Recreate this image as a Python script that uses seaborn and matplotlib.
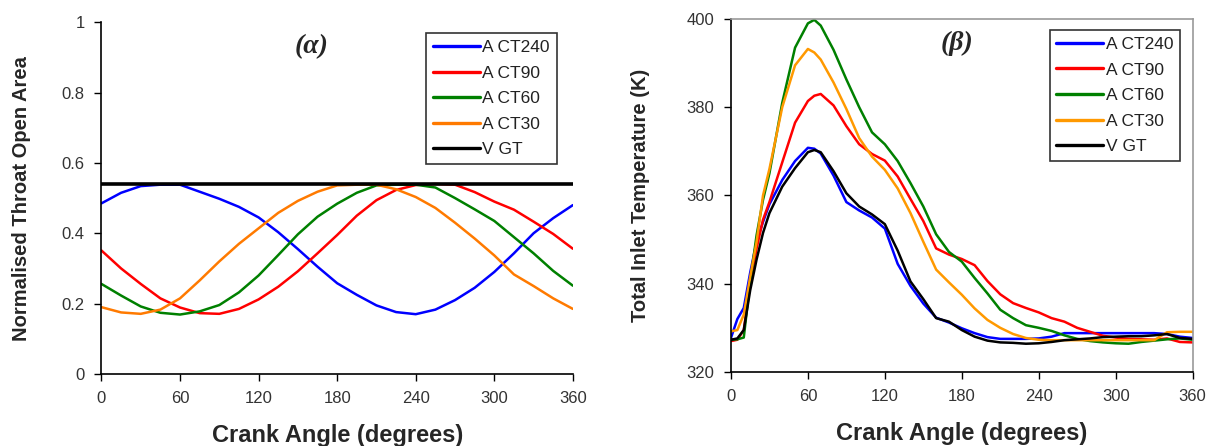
import numpy as np
import pandas as pd
import matplotlib
matplotlib.use("Agg")
import matplotlib.pyplot as plt
import seaborn as sns

# ---------------- data: panel (a) ----------------
angle_a = [0, 15, 30, 45, 60, 75, 90, 105, 120, 135, 150, 165, 180,
           195, 210, 225, 240, 255, 270, 285, 300, 315, 330, 345, 360]
a_act240 = [0.485, 0.515, 0.534, 0.538, 0.538, 0.518, 0.498, 0.475, 0.445, 0.403, 0.355, 0.305, 0.258,
            0.225, 0.195, 0.176, 0.170, 0.183, 0.210, 0.245, 0.290, 0.343, 0.400, 0.443, 0.480]
a_act90 = [0.351, 0.300, 0.256, 0.215, 0.189, 0.173, 0.171, 0.185, 0.212, 0.248, 0.292, 0.343, 0.395,
           0.450, 0.494, 0.523, 0.537, 0.540, 0.538, 0.517, 0.490, 0.467, 0.433, 0.398, 0.356]
a_act60 = [0.256, 0.223, 0.192, 0.174, 0.169, 0.178, 0.196, 0.232, 0.280, 0.338, 0.397, 0.447, 0.484,
           0.515, 0.536, 0.538, 0.538, 0.530, 0.500, 0.468, 0.435, 0.389, 0.343, 0.293, 0.251]
a_act30 = [0.190, 0.175, 0.171, 0.183, 0.215, 0.266, 0.320, 0.370, 0.414, 0.458, 0.492, 0.518, 0.536,
           0.538, 0.538, 0.525, 0.503, 0.472, 0.430, 0.385, 0.337, 0.283, 0.250, 0.215, 0.185]
a_vgt = [0.54] * len(angle_a)

# ---------------- data: panel (b) ----------------
angle_b = [0, 5, 10, 15, 20, 25, 30, 40, 50, 60, 65, 70, 80, 90, 100, 110, 120, 130, 140, 150,
           160, 170, 180, 190, 200, 210, 220, 230, 240, 250, 260, 270, 280, 290, 300, 310,
           320, 330, 340, 350, 360]
b_act240 = [327.7, 332.0, 334.5, 342.5, 349.5, 354.0, 358.0, 363.5, 367.8, 370.8, 370.6, 369.5, 364.5,
            358.5, 356.6, 355.0, 352.5, 344.5, 339.5, 335.5, 332.3, 331.2, 329.9, 328.8, 327.9,
            327.5, 327.5, 327.5, 327.6, 328.0, 328.8, 328.8, 328.8, 328.8, 328.8, 328.8, 328.8,
            328.8, 328.6, 328.0, 327.7]
b_act90 = [327.0, 327.3, 329.5, 340.0, 348.0, 354.5, 358.5, 367.5, 376.5, 381.4, 382.6, 383.0, 380.4,
           375.7, 371.6, 369.4, 367.9, 364.3, 359.2, 354.2, 348.0, 346.6, 345.6, 344.2, 340.6,
           337.6, 335.6, 334.5, 333.5, 332.2, 331.4, 330.0, 329.1, 328.2, 327.8, 327.5, 327.4,
           327.3, 327.6, 326.8, 326.7]
b_act60 = [327.3, 327.4, 327.8, 340.5, 351.0, 359.0, 365.0, 381.0, 393.5, 399.0, 399.8, 398.5, 393.0,
           386.3, 380.0, 374.3, 371.6, 367.8, 362.8, 357.5, 351.2, 347.2, 345.0, 341.3, 337.8,
           334.1, 332.2, 330.6, 330.0, 329.3, 328.3, 327.5, 327.0, 326.7, 326.5, 326.4, 326.8,
           327.1, 327.4, 327.6, 327.3]
b_act30 = [329.2, 329.5, 333.0, 341.5, 349.5, 360.0, 366.0, 380.0, 389.5, 393.2, 392.4, 390.8, 385.6,
           379.6, 373.0, 368.8, 365.8, 361.6, 356.0, 349.5, 343.2, 340.3, 337.5, 334.4, 331.8,
           330.0, 328.6, 327.7, 327.3, 327.2, 327.2, 327.2, 327.2, 327.2, 327.2, 327.2, 327.2,
           327.2, 329.0, 329.1, 329.1]
b_vgt = [327.3, 327.6, 329.5, 338.5, 345.5, 351.5, 356.0, 362.0, 366.2, 369.8, 370.3, 369.8, 365.5,
         360.5, 357.5, 355.7, 353.5, 347.5, 340.5, 336.5, 332.2, 331.4, 329.5, 328.0, 327.1,
         326.7, 326.6, 326.4, 326.5, 326.8, 327.2, 327.4, 327.6, 327.9, 328.0, 328.1, 328.1,
         328.3, 328.6, 327.7, 327.5]

series_names = ["ACT240", "ACT90", "ACT60", "ACT30", "VGT"]
legend_labels = ["A CT240", "A CT90", "A CT60", "A CT30", "V GT"]
x_ticks = [0, 60, 120, 180, 240, 300, 360]
ya_ticks = [0, 0.2, 0.4, 0.6, 0.8, 1]
ya_ticklabels = ["0", "0.2", "0.4", "0.6", "0.8", "1"]
yb_ticks = [320, 340, 360, 380, 400]


def long_df(angle, arrays):
    frames = []
    for name, vals in zip(series_names, arrays):
        frames.append(pd.DataFrame({"angle": angle, "value": vals, "series": name}))
    return pd.concat(frames, ignore_index=True)


df_a = long_df(angle_a, [a_act240, a_act90, a_act60, a_act30, a_vgt])
df_b = long_df(angle_b, [b_act240, b_act90, b_act60, b_act30, b_vgt])

pal_a = {"ACT240": "#0000FF", "ACT90": "#FF0000", "ACT60": "#008000", "ACT30": "#FF7A00", "VGT": "#000000"}
pal_b = {"ACT240": "#0000FF", "ACT90": "#FF0000", "ACT60": "#008000", "ACT30": "#FF9900", "VGT": "#000000"}

sns.set_style("ticks")
plt.rcParams["font.family"] = ["Liberation Sans", "DejaVu Sans"]

fig = plt.figure(figsize=(12.15, 4.46), dpi=100)
ax1 = fig.add_axes([0.0835, 0.1614, 0.388, 0.789])
ax2 = fig.add_axes([0.6016, 0.166, 0.380, 0.7915])

tick_color = "#333333"

for ax, df, pal in [(ax1, df_a, pal_a), (ax2, df_b, pal_b)]:
    sns.lineplot(data=df, x="angle", y="value", hue="series", hue_order=series_names,
                 palette=pal, ax=ax, linewidth=1.8, sort=False, legend=False)
    ax.set_xlim(0, 360)
    ax.set_xticks(x_ticks)
    ax.tick_params(axis="both", direction="out", length=5, width=1, colors="black",
                   labelsize=12, labelcolor=tick_color, pad=7)
    ax.set_xlabel("Crank Angle (degrees)", fontsize=17, fontweight="bold", labelpad=13)
    for sp in ["left", "bottom"]:
        ax.spines[sp].set_color("black")
        ax.spines[sp].set_linewidth(1.2)

# thicker VGT line on panel (a)
ax1.lines[-1].set_linewidth(2.6)

ax1.set_ylim(0, 1)
ax1.set_yticks(ya_ticks)
ax1.set_yticklabels(ya_ticklabels)
ax1.set_ylabel("Normalised Throat Open Area", fontsize=14.5, fontweight="bold", labelpad=22)
ax1.spines["top"].set_visible(False)
ax1.spines["right"].set_visible(False)

ax2.set_ylim(320, 400)
ax2.set_yticks(yb_ticks)
ax2.set_ylabel("Total Inlet Temperature (K)", fontsize=14.5, fontweight="bold", labelpad=26)
for sp in ["top", "right"]:
    ax2.spines[sp].set_visible(True)
    ax2.spines[sp].set_color("#999999")
    ax2.spines[sp].set_linewidth(1.2)

ax1.text(0.445, 0.93, "(α)", transform=ax1.transAxes, ha="center", va="center",
         fontsize=20, fontweight="bold", fontstyle="italic", family=["Liberation Serif", "DejaVu Serif"])
ax2.text(0.49, 0.93, "(β)", transform=ax2.transAxes, ha="center", va="center",
         fontsize=20, fontweight="bold", fontstyle="italic", family=["Liberation Serif", "DejaVu Serif"])

for ax, pal, anchor in [(ax1, pal_a, (0.688, 0.969)), (ax2, pal_b, (0.69, 0.969))]:
    handles = [plt.Line2D([], [], color=pal[n], linewidth=2.4) for n in series_names]
    leg = ax.legend(handles, legend_labels, loc="upper left", bbox_to_anchor=anchor,
                    borderaxespad=0, frameon=True, fancybox=False, edgecolor="black",
                    fontsize=12.5, handlelength=2.7, handletextpad=0.15, labelspacing=0.6,
                    borderpad=0.4)
    leg.get_frame().set_linewidth(1.2)
    for t in leg.get_texts():
        t.set_color("#222222")

fig.savefig("out.png", dpi=100, facecolor="white")
